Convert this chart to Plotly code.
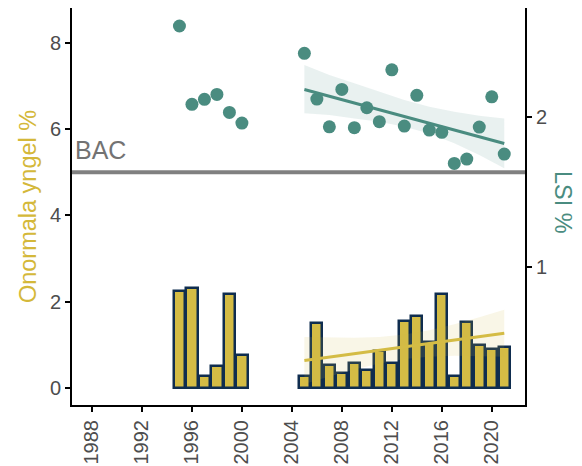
import plotly.graph_objects as go

# ---- data ----
bar_years = [1995, 1996, 1997, 1998, 1999, 2000,
             2005, 2006, 2007, 2008, 2009, 2010, 2011, 2012, 2013,
             2014, 2015, 2016, 2017, 2018, 2019, 2020, 2021]
onormala = [2.24, 2.31, 0.27, 0.51, 2.18, 0.77,
            0.27, 1.50, 0.54, 0.36, 0.58, 0.43, 0.86, 0.58, 1.55,
            1.68, 1.07, 2.18, 0.27, 1.54, 1.01, 0.90, 0.96]

lsi_years = bar_years
lsi = [2.605, 2.083, 2.116, 2.149, 2.029, 1.958,
       2.423, 2.118, 1.933, 2.182, 1.927, 2.060, 1.967, 2.313, 1.938,
       2.143, 1.911, 1.896, 1.689, 1.718, 1.931, 2.133, 1.751]

trend_years = [2005, 2021]
lsi_trend = [2.182, 1.822]
onormala_trend = [0.641, 1.273]

band_years = [2005, 2007, 2009, 2011, 2013, 2015, 2017, 2019, 2021]
lsi_band_hi = [2.345, 2.278, 2.223, 2.167, 2.111, 2.067, 2.033, 2.007, 1.989]
lsi_band_lo = [2.023, 2.011, 1.989, 1.967, 1.933, 1.889, 1.823, 1.745, 1.656]
onormala_band_hi = [1.185, 1.170, 1.166, 1.185, 1.241, 1.343, 1.482, 1.644, 1.817]
onormala_band_lo = [0.097, 0.270, 0.432, 0.571, 0.673, 0.729, 0.748, 0.744, 0.729]

bac_value = 5
x_ticks = [1988, 1992, 1996, 2000, 2004, 2008, 2012, 2016, 2020]

# ---- styles ----
YELLOW = "#d4bc45"
NAVY = "#0f2d4f"
TEAL = "#4a8c80"
FONT = "Liberation Sans, Arial, sans-serif"
TICKCOL = "#4d4d4d"

fig = go.Figure()

# yellow band + bars + trend (left axis)
fig.add_trace(go.Scatter(x=band_years + band_years[::-1],
                         y=onormala_band_hi + onormala_band_lo[::-1],
                         fill="toself", fillcolor="rgba(212,188,69,0.13)",
                         line=dict(width=0), mode="lines", hoverinfo="skip",
                         showlegend=False, yaxis="y"))
fig.add_trace(go.Bar(x=bar_years, y=onormala, width=0.9,
                     marker=dict(color=YELLOW, line=dict(color=NAVY, width=2.5)),
                     showlegend=False, yaxis="y"))
fig.add_trace(go.Scatter(x=trend_years, y=onormala_trend, mode="lines",
                         line=dict(color=YELLOW, width=3),
                         showlegend=False, yaxis="y"))

# teal band + points + trend (right axis)
fig.add_trace(go.Scatter(x=band_years + band_years[::-1],
                         y=lsi_band_hi + lsi_band_lo[::-1],
                         fill="toself", fillcolor="rgba(74,140,128,0.12)",
                         line=dict(width=0), mode="lines", hoverinfo="skip",
                         showlegend=False, yaxis="y2"))
fig.add_trace(go.Scatter(x=lsi_years, y=lsi, mode="markers",
                         marker=dict(color=TEAL, size=13),
                         showlegend=False, yaxis="y2"))
fig.add_trace(go.Scatter(x=trend_years, y=lsi_trend, mode="lines",
                         line=dict(color=TEAL, width=3),
                         showlegend=False, yaxis="y2"))

fig.add_shape(type="line", xref="paper", x0=0, x1=1, yref="y",
              y0=bac_value, y1=bac_value,
              line=dict(color="#808080", width=4))

fig.add_annotation(text="BAC", xref="paper", x=0.003, yref="y", y=bac_value,
                   xanchor="left", yanchor="bottom", showarrow=False, yshift=6,
                   font=dict(family=FONT, size=25, color="#737373"))

fig.add_annotation(text="Onormala yngel %", xref="paper", x=-0.098, xanchor="center",
                   yref="paper", y=0.5, yanchor="middle", textangle=-90,
                   showarrow=False, font=dict(family=FONT, size=23.5, color="#d4b83a"))
fig.add_annotation(text="LSI %", xref="paper", x=1.085, xanchor="center",
                   yref="paper", y=0.51, yanchor="middle", textangle=90,
                   showarrow=False, font=dict(family=FONT, size=23.5, color=TEAL))

axis_common = dict(showgrid=False, zeroline=False, showline=True,
                   linecolor="black", linewidth=2, ticks="outside",
                   ticklen=5, tickwidth=1.5, tickcolor="black",
                   tickfont=dict(family=FONT, size=20, color=TICKCOL))

# the page body adds an 8px offset, so the figure is sized 8px smaller
fig.update_layout(
    width=574, height=458,
    margin=dict(l=64, r=57, t=0, b=61),
    plot_bgcolor="white", paper_bgcolor="white",
    bargap=0,
    xaxis=dict(range=[1986.4, 2022.66], tickvals=x_ticks, tickangle=-90,
               automargin=False, **axis_common),
    yaxis=dict(range=[-0.39, 8.8], tickvals=[0, 2, 4, 6, 8],
               automargin=False, **axis_common),
    yaxis2=dict(range=[0.078, 2.725], tickvals=[1, 2], overlaying="y",
                side="right", automargin=False, **axis_common),
)

fig.write_html("out.html")
